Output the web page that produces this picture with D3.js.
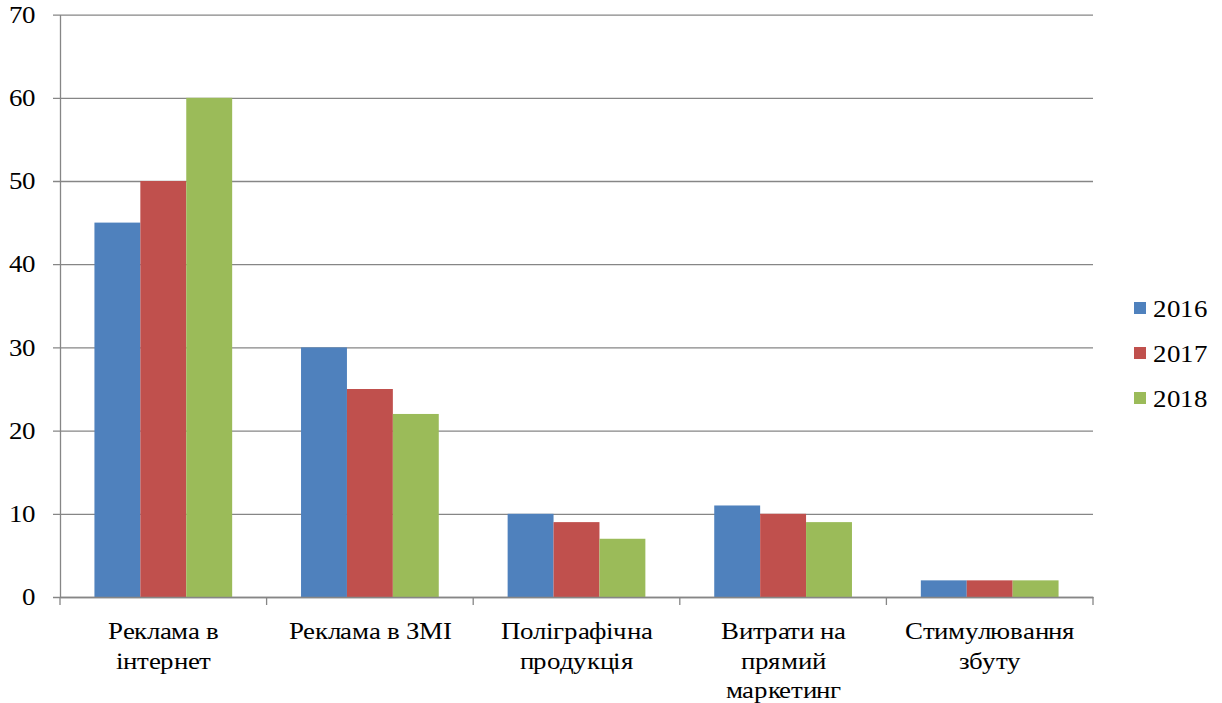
<!DOCTYPE html>
<html>
<head>
<meta charset="utf-8">
<script src="https://cdn.jsdelivr.net/npm/d3@7"></script>
<style>
  @font-face {
    font-family: "ChartSerif";
    src: local("Liberation Serif"), local("LiberationSerif"), local("LiberationSerif-Regular"), local("Times New Roman");
  }
  html, body { margin: 0; padding: 0; background: #fff; }
  svg text { font-family: "ChartSerif", "Liberation Serif"; }
</style>
</head>
<body>
<svg id="chart" width="1222" height="703"></svg>
<script>
// Category labels, pre-wrapped into lines
const categories = [
  ["Реклама в", "інтернет"],
  ["Реклама в ЗМІ"],
  ["Поліграфічна", "продукція"],
  ["Витрати на", "прямий", "маркетинг"],
  ["Стимулювання", "збуту"]
];
const years = ["2016", "2017", "2018"];
const values2016 = [45, 30, 10, 11, 2];
const values2017 = [50, 25, 9, 10, 2];
const values2018 = [60, 22, 7, 9, 2];
const yTicks = [0, 10, 20, 30, 40, 50, 60, 70];
const colors = ["#4F81BD", "#C0504D", "#9BBB59"];

const series = [values2016, values2017, values2018];

const FONT = '"ChartSerif", "Liberation Serif"';
const fontSize = 24;
const stretch = 1.12;   // glyphs are slightly wider than tall

const svg = d3.select("#chart");
const plotLeft = 60, plotRight = 1093, plotTop = 14.6, plotBottom = 597;

const x = d3.scaleBand()
  .domain(d3.range(categories.length))
  .range([plotLeft, plotRight])
  .paddingInner(0)
  .paddingOuter(0);

const y = d3.scaleLinear().domain([0, 70]).range([plotBottom, plotTop]);

function addText(str, tx, ty, anchor, dy) {
  const t = svg.append("text")
    .style("font-family", FONT)
    .style("font-size", fontSize + "px")
    .attr("fill", "#000")
    .attr("text-anchor", anchor)
    .attr("transform", `translate(${tx},${ty}) scale(${stretch},1)`)
    .text(str);
  if (dy) t.attr("dy", dy);
  return t;
}

// Value labels on the vertical axis
yTicks.forEach(v => addText(d3.format("d")(v), 36, y(v), "end", "0.34em"));

// Category labels
categories.forEach((lines, i) => {
  lines.forEach((ln, j) => {
    addText(ln, x(i) + x.bandwidth() / 2, 639 + j * 29.5, "middle");
  });
});

// Legend
years.forEach((yr, i) => {
  const cy = 309 + i * 45;
  svg.append("rect")
    .attr("x", 1134).attr("y", cy - 7)
    .attr("width", 12).attr("height", 12)
    .attr("fill", colors[i]);
  addText(yr, 1153, cy, "start", "0.35em");
});

// Horizontal gridlines with the short tick to the left of the axis
const yAxis = d3.axisLeft(y)
  .tickValues(yTicks)
  .tickSize(-(plotRight - plotLeft))
  .tickSizeOuter(0)
  .tickFormat("");

const gy = svg.append("g").attr("transform", `translate(${plotLeft},0)`).call(yAxis);
gy.selectAll("text").remove();
gy.select(".domain").attr("stroke", "#868686").attr("stroke-width", 1.3);
gy.selectAll(".tick line")
  .attr("x1", -7)
  .attr("stroke", "#868686")
  .attr("stroke-width", 1.3);

// Bars
const inner = d3.scaleBand()
  .domain(d3.range(years.length))
  .range([0, x.bandwidth()])
  .paddingOuter(0.75)
  .paddingInner(0);

series.forEach((vals, si) => {
  svg.append("g").selectAll("rect")
    .data(vals)
    .join("rect")
    .attr("x", (d, i) => x(i) + inner(si))
    .attr("width", inner.bandwidth())
    .attr("y", d => y(d))
    .attr("height", d => y(0) - y(d))
    .attr("fill", colors[si]);
});

// Category axis along zero
const xAxis = d3.axisBottom(x).tickValues([]).tickSizeOuter(0);
const gx = svg.append("g").attr("transform", `translate(0,${plotBottom})`).call(xAxis);
gx.select(".domain").attr("stroke", "#868686").attr("stroke-width", 1.3);

// Tick marks at category boundaries
const bounds = d3.range(categories.length + 1).map(i => plotLeft + i * x.step());
gx.selectAll("line.bound")
  .data(bounds)
  .join("line")
  .attr("class", "bound")
  .attr("x1", d => d).attr("x2", d => d)
  .attr("y1", 0).attr("y2", 8)
  .attr("stroke", "#868686")
  .attr("stroke-width", 1.3);
</script>
</body>
</html>
